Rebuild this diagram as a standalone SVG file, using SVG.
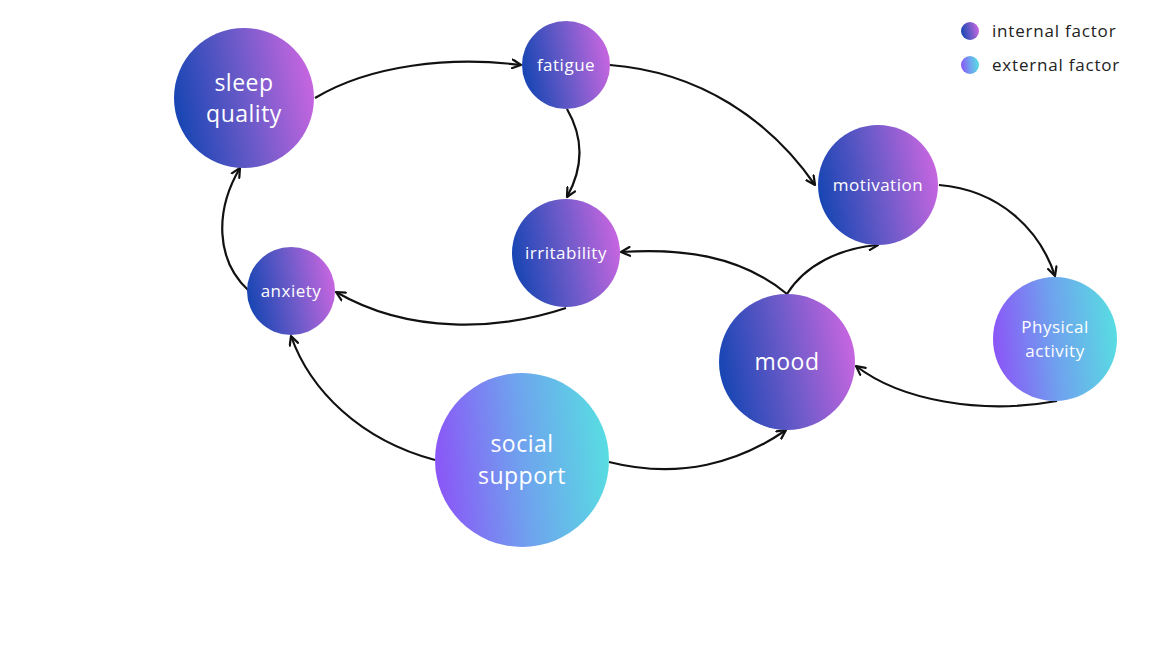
<svg xmlns="http://www.w3.org/2000/svg" width="1152" height="648" viewBox="0 0 1152 648">
<defs>
<linearGradient id="gi" x1="0" y1="0.6" x2="1" y2="0.4">
<stop offset="0" stop-color="#1545b3"/><stop offset="0.5" stop-color="#6a5ac8"/><stop offset="1" stop-color="#c866e0"/>
</linearGradient>
<linearGradient id="ge" x1="0" y1="0.55" x2="1" y2="0.45">
<stop offset="0" stop-color="#8b55f7"/><stop offset="0.5" stop-color="#6fa2ee"/><stop offset="1" stop-color="#58dde2"/>
</linearGradient>
<marker id="arr" viewBox="0 0 10 10" refX="9" refY="5" markerWidth="5" markerHeight="5" orient="auto" markerUnits="strokeWidth">
<path d="M1,1 L9,5 L1,9" fill="none" stroke="#111" stroke-width="2" stroke-linecap="round" stroke-linejoin="round"/>
</marker>
<style>
.lbl{font-family:"Open Sans","Liberation Sans",sans-serif;fill:#fff;text-anchor:middle;font-weight:500}
.s{font-size:17px;letter-spacing:0.5px}.l{font-size:23px;letter-spacing:0.5px}
.leg{font-family:"Open Sans","Liberation Sans",sans-serif;font-size:17px;letter-spacing:0.8px;fill:#222}
.c{fill:none;stroke:#111;stroke-width:2.2;marker-end:url(#arr)}
</style>
</defs>
<rect width="1152" height="648" fill="#fff"/>
<g id="legend">
<circle cx="970" cy="31" r="9" fill="url(#gi)"/>
<text class="leg" x="992" y="37">internal factor</text>
<circle cx="970" cy="65" r="9" fill="url(#ge)"/>
<text class="leg" x="992" y="71">external factor</text>
</g>
<g id="connectors">
<path class="c" d="M315,98 C370,65 450,56 521,65"/>
<path class="c" d="M610,65 C700,72 770,120 815,185"/>
<path class="c" d="M567,109 C585,140 582,170 567,197"/>
<path class="c" d="M566,308 C500,330 410,335 336,292"/>
<path class="c" d="M249,291 C215,260 215,210 240,168"/>
<path class="c" d="M435,460 C360,440 310,390 291,336"/>
<path class="c" d="M609,462 C680,480 740,462 786,430"/>
<path class="c" d="M787,294 C740,255 680,248 621,252"/>
<path class="c" d="M787,294 C805,265 840,248 878,245"/>
<path class="c" d="M939,185 C1000,190 1040,230 1055,276"/>
<path class="c" d="M1057,401 C980,415 900,400 856,366"/>
</g>
<g id="sleep-quality">
<circle cx="244" cy="98" r="70" fill="url(#gi)"/>
<text class="lbl l" x="244" y="91">sleep</text>
<text class="lbl l" x="244" y="122">quality</text>
</g>
<g id="fatigue">
<circle cx="566" cy="65" r="44" fill="url(#gi)"/>
<text class="lbl s" x="566" y="71">fatigue</text>
</g>
<g id="irritability">
<circle cx="566" cy="253" r="54" fill="url(#gi)"/>
<text class="lbl s" x="566" y="259">irritability</text>
</g>
<g id="anxiety">
<circle cx="291" cy="291" r="44" fill="url(#gi)"/>
<text class="lbl s" x="291" y="297">anxiety</text>
</g>
<g id="motivation">
<circle cx="878" cy="185" r="60" fill="url(#gi)"/>
<text class="lbl s" x="878" y="191">motivation</text>
</g>
<g id="mood">
<circle cx="787" cy="362" r="68" fill="url(#gi)"/>
<text class="lbl l" x="787" y="370">mood</text>
</g>
<g id="physical-activity">
<circle cx="1055" cy="339" r="62" fill="url(#ge)"/>
<text class="lbl s" x="1055" y="333">Physical</text>
<text class="lbl s" x="1055" y="357">activity</text>
</g>
<g id="social-support">
<circle cx="522" cy="460" r="87" fill="url(#ge)"/>
<text class="lbl l" x="522" y="452">social</text>
<text class="lbl l" x="522" y="484">support</text>
</g>
</svg>
